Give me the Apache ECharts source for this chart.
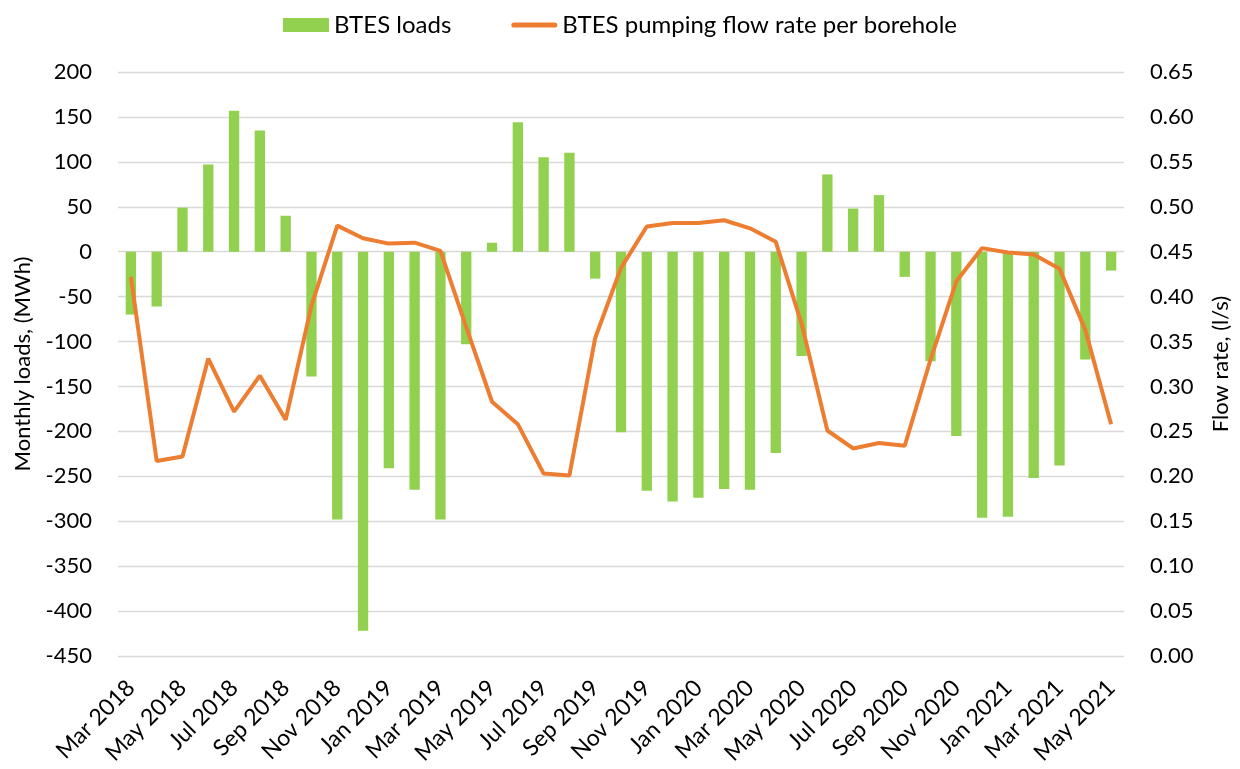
<!DOCTYPE html>
<html>
<head>
<meta charset="utf-8">
<script src="https://cdn.jsdelivr.net/npm/echarts@6/dist/echarts.min.js"></script>
<style>
html,body{margin:0;padding:0;background:#fff;}
#chart{width:1240px;height:769px;}
</style>
</head>
<body>
<div id="chart"></div>
<script>
const categories = [
  'Mar 2018','Apr 2018','May 2018','Jun 2018','Jul 2018','Aug 2018','Sep 2018','Oct 2018','Nov 2018','Dec 2018',
  'Jan 2019','Feb 2019','Mar 2019','Apr 2019','May 2019','Jun 2019','Jul 2019','Aug 2019','Sep 2019','Oct 2019',
  'Nov 2019','Dec 2019','Jan 2020','Feb 2020','Mar 2020','Apr 2020','May 2020','Jun 2020','Jul 2020','Aug 2020',
  'Sep 2020','Oct 2020','Nov 2020','Dec 2020','Jan 2021','Feb 2021','Mar 2021','Apr 2021','May 2021'
];
const btesLoads = [
  -70, -61, 49, 97, 157, 135, 40, -139, -298, -422,
  -241, -265, -298, -103, 10, 144, 105, 110, -30, -201,
  -266, -278, -274, -264, -265, -224, -116, 86, 48, 63,
  -28, -122, -205, -296, -295, -252, -238, -120, -21
];
const flowRate = [
  0.422, 0.217, 0.222, 0.331, 0.272, 0.312, 0.263, 0.390, 0.479, 0.465,
  0.459, 0.460, 0.451, 0.366, 0.283, 0.258, 0.203, 0.201, 0.354, 0.432,
  0.478, 0.482, 0.482, 0.485, 0.476, 0.461, 0.370, 0.251, 0.231, 0.237,
  0.234, 0.330, 0.417, 0.454, 0.449, 0.447, 0.431, 0.363, 0.258
];
const seriesNames = ['BTES loads', 'BTES pumping flow rate per borehole'];
const leftAxisName = 'Monthly loads, (MWh)';
const rightAxisName = 'Flow rate, (l/s)';

const FONT = 'Lato';
const chart = echarts.init(document.getElementById('chart'), null, {renderer: 'canvas'});
chart.setOption({
  animation: false,
  backgroundColor: '#fff',
  textStyle: {fontFamily: FONT},
  legend: {
    top: 8,
    left: 'center',
    itemGap: 60,
    itemWidth: 46,
    itemHeight: 14,
    symbolKeepAspect: true,
    textStyle: {fontFamily: FONT, fontSize: 24, color: '#000'},
    data: [
      {name: seriesNames[0], icon: 'rect'},
      {name: seriesNames[1], icon: 'path://M2,0 L34,0 A2,2 0 0 1 34,4 L2,4 A2,2 0 0 1 2,0 Z'}
    ]
  },
  grid: {left: 118, right: 115, top: 72, bottom: 113, containLabel: false},
  xAxis: {
    type: 'category',
    data: categories,
    boundaryGap: true,
    axisLine: {show: false},
    axisTick: {show: false},
    axisLabel: {
      interval: 1,
      rotate: 45,
      margin: 28,
      fontFamily: FONT,
      fontSize: 23,
      color: '#000'
    }
  },
  yAxis: [
    {
      type: 'value',
      min: -450, max: 200, interval: 50,
      name: leftAxisName,
      nameLocation: 'middle',
      nameGap: 84,
      nameTextStyle: {fontFamily: FONT, fontSize: 22, color: '#000'},
      axisLine: {show: false},
      axisTick: {show: false},
      axisLabel: {margin: 26, fontFamily: FONT, fontSize: 22, color: '#000'},
      splitLine: {lineStyle: {color: '#d9d9d9', width: 1.3}}
    },
    {
      type: 'value',
      min: 0, max: 0.65, interval: 0.05,
      name: rightAxisName,
      nameLocation: 'middle',
      nameGap: 86,
      nameTextStyle: {fontFamily: FONT, fontSize: 22, color: '#000'},
      axisLine: {show: false},
      axisTick: {show: false},
      axisLabel: {margin: 26, fontFamily: FONT, fontSize: 22, color: '#000',
        formatter: v => v.toFixed(2)},
      splitLine: {show: false}
    }
  ],
  series: [
    {
      name: seriesNames[0],
      type: 'bar',
      yAxisIndex: 0,
      data: btesLoads,
      barWidth: '40%',
      itemStyle: {color: '#92d050'}
    },
    {
      name: seriesNames[1],
      type: 'line',
      yAxisIndex: 1,
      data: flowRate,
      symbol: 'none',
      lineStyle: {color: '#ed7d31', width: 4},
      itemStyle: {color: '#ed7d31'}
    }
  ]
});
</script>
</body>
</html>
